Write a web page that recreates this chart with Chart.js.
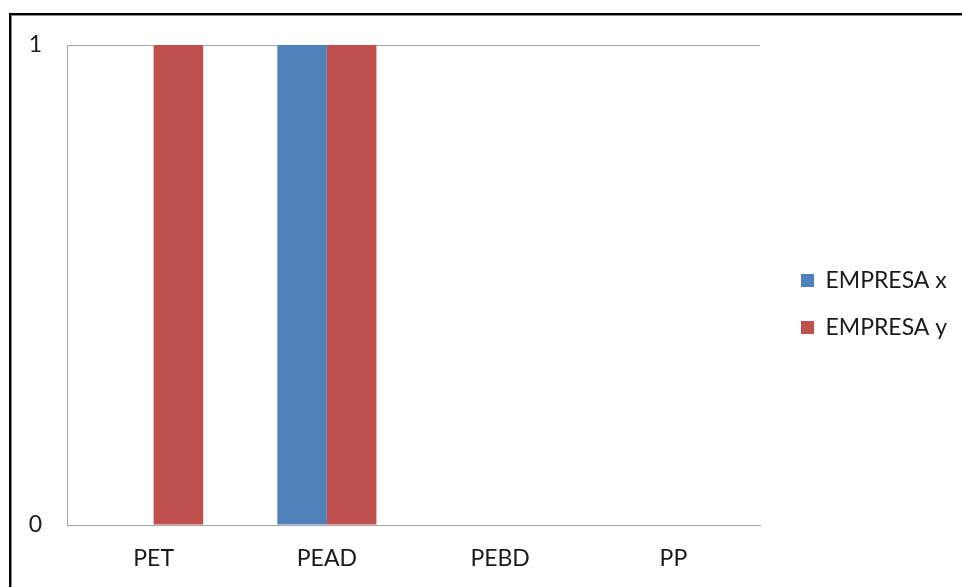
<!DOCTYPE html>
<html>
<head>
<meta charset="utf-8">
<script src="https://cdn.jsdelivr.net/npm/chart.js@4.4.0/dist/chart.umd.min.js"></script>
<style>
  html, body { margin: 0; padding: 0; background: #fff; }
  #wrap { position: relative; width: 962px; height: 587px; overflow: hidden; }
  #frame {
    position: absolute; left: 9px; top: 13px; width: 1100px; height: 800px;
    border-top: 2px solid #000; border-left: 2px solid #000;
    box-shadow: inset 1px 1px 0 #8c8c8c;
    pointer-events: none;
  }
  canvas { position: absolute; left: 0; top: 0; }
</style>
</head>
<body>
<div id="wrap">
  <canvas id="chart" width="962" height="587"></canvas>
  <div id="frame"></div>
</div>
<script>
var categories = ['PET', 'PEAD', 'PEBD', 'PP'];
var empresa_x = [0, 1, 0, 0];
var empresa_y = [1, 1, 0, 0];
var series_names = ['EMPRESA x', 'EMPRESA y'];
var y_ticks = [0, 1];

var axis_color = '#a6a6a6';
var font_family = 'Lato, "Open Sans", sans-serif';
var font_size = 23;

// keep legend at a fixed width, then nudge it like the original
var legend_width = 202;
var legend_shift_x = 17;
var legend_shift_y = -12;

var legend_placer = {
  id: 'legend_placer',
  beforeLayout: function(chart) {
    var lg = chart.legend;
    if (lg && !lg._patched) {
      var fit = lg.fit;
      lg.fit = function() {
        fit.call(this);
        this.width = legend_width;
      };
      lg._patched = true;
    }
  },
  afterLayout: function(chart) {
    var lg = chart.legend;
    if (lg) {
      lg.left += legend_shift_x;
      lg.right += legend_shift_x;
      lg.top += legend_shift_y;
      lg.bottom += legend_shift_y;
    }
  }
};

var ctx = document.getElementById('chart').getContext('2d');

new Chart(ctx, {
  type: 'bar',
  data: {
    labels: categories,
    datasets: [{
      label: series_names[0],
      data: empresa_x,
      backgroundColor: '#4f81bd'
    }, {
      label: series_names[1],
      data: empresa_y,
      backgroundColor: '#c0504d'
    }]
  },
  options: {
    responsive: false,
    animation: false,
    categoryPercentage: 0.572,
    barPercentage: 1,
    layout: {
      padding: { left: 20, right: 0, top: 45, bottom: 0 }
    },
    scales: {
      x: {
        afterFit: function(scale) { scale.height = 62; },
        grid: { display: false },
        border: { display: true, color: axis_color, width: 1 },
        ticks: {
          color: '#1a1a1a',
          padding: 12,
          font: { family: font_family, size: font_size }
        }
      },
      y: {
        min: y_ticks[0],
        max: y_ticks[y_ticks.length - 1],
        afterFit: function(scale) { scale.width = 47; },
        afterBuildTicks: function(scale) {
          scale.ticks = y_ticks.map(function(v) { return { value: v }; });
        },
        grid: { color: axis_color, drawTicks: false, lineWidth: 1 },
        border: { display: true, color: axis_color, width: 1 },
        ticks: {
          color: '#1a1a1a',
          padding: 25,
          font: { family: font_family, size: font_size }
        }
      }
    },
    plugins: {
      legend: {
        position: 'right',
        labels: {
          boxWidth: 13,
          boxHeight: 13,
          padding: 24,
          color: '#1a1a1a',
          font: { family: font_family, size: font_size }
        }
      },
      tooltip: { enabled: false }
    }
  },
  plugins: [legend_placer]
});
</script>
</body>
</html>
